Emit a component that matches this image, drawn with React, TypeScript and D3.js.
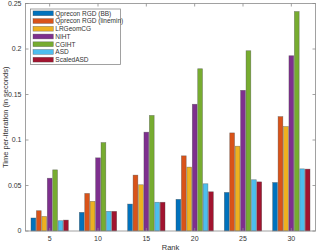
import { useEffect, useRef } from "react";
import * as d3 from "d3";

const ranks = ["5", "10", "15", "20", "25", "30"];
const seriesNames = [
  "Qprecon RGD (BB)",
  "Qprecon RGD (linemin)",
  "LRGeomCG",
  "NIHT",
  "CGIHT",
  "ASD",
  "ScaledASD",
];
const colors = ["#0072BD", "#D95319", "#EDB120", "#7E2F8E", "#77AC30", "#4DBEEE", "#A2142F"];

const qpreconBB = [0.0143, 0.0205, 0.0296, 0.0348, 0.0424, 0.0533];
const qpreconLinemin = [0.0223, 0.0413, 0.0614, 0.0826, 0.1078, 0.1257];
const lrgeomcg = [0.016, 0.0326, 0.0508, 0.0702, 0.0932, 0.1148];
const niht = [0.058, 0.0804, 0.1086, 0.1393, 0.1546, 0.1926];
const cgiht = [0.0672, 0.0972, 0.127, 0.1783, 0.1981, 0.2412];
const asd = [0.0113, 0.0216, 0.0316, 0.0519, 0.0563, 0.0683];
const scaledAsd = [0.012, 0.0216, 0.0316, 0.0431, 0.054, 0.068];

const series = [qpreconBB, qpreconLinemin, lrgeomcg, niht, cgiht, asd, scaledAsd];
const yTicks = [0, 0.05, 0.1, 0.15, 0.2, 0.25];

export default function App() {
  const svgRef = useRef<SVGSVGElement>(null);

  useEffect(() => {
    if (!svgRef.current) return;
    const svg = d3.select(svgRef.current);
    svg.selectAll("*").remove();

    const left = 25.5;
    const right = 315.5;
    const top = 3.5;
    const bottom = 231;
    const font = "'Liberation Sans', Arial, sans-serif";
    const axisColor = "#8a8a8a";
    const textColor = "#333";

    const x = d3
      .scaleBand()
      .domain(ranks)
      .range([left, right])
      .paddingInner(0.2)
      .paddingOuter(0.1);

    const xInner = d3
      .scaleBand<number>()
      .domain(d3.range(series.length))
      .range([0, x.bandwidth()])
      .padding(0.12);

    const y = d3.scaleLinear().domain([0, 0.25]).range([bottom, top]);

    // Bars
    series.forEach((vals, si) => {
      svg
        .append("g")
        .selectAll("rect")
        .data(vals)
        .join("rect")
        .attr("x", (_, i) => x(ranks[i])! + xInner(si)!)
        .attr("y", (d) => y(d))
        .attr("width", xInner.bandwidth())
        .attr("height", (d) => bottom - y(d))
        .attr("fill", colors[si])
        .attr("stroke", "#444")
        .attr("stroke-opacity", 0.55)
        .attr("stroke-width", 0.6);
    });

    // Frame
    svg
      .append("rect")
      .attr("x", left)
      .attr("y", top)
      .attr("width", right - left)
      .attr("height", bottom - top)
      .attr("fill", "none")
      .attr("stroke", axisColor)
      .attr("stroke-width", 0.8);

    // Ticks (inward, on all sides)
    const tk = 3;
    ranks.forEach((r) => {
      const cx = x(r)! + x.bandwidth() / 2;
      svg.append("line").attr("x1", cx).attr("x2", cx).attr("y1", bottom).attr("y2", bottom - tk)
        .attr("stroke", axisColor).attr("stroke-width", 0.8);
      svg.append("line").attr("x1", cx).attr("x2", cx).attr("y1", top).attr("y2", top + tk)
        .attr("stroke", axisColor).attr("stroke-width", 0.8);
      svg.append("text").attr("x", cx).attr("y", 240.5).attr("text-anchor", "middle")
        .style("font-family", font).style("font-size", "7px").style("fill", textColor).text(r);
    });
    yTicks.forEach((t) => {
      const cy = y(t);
      svg.append("line").attr("x1", left).attr("x2", left + tk).attr("y1", cy).attr("y2", cy)
        .attr("stroke", axisColor).attr("stroke-width", 0.8);
      svg.append("line").attr("x1", right).attr("x2", right - tk).attr("y1", cy).attr("y2", cy)
        .attr("stroke", axisColor).attr("stroke-width", 0.8);
      svg.append("text").attr("x", 21.5).attr("y", cy + 2.4).attr("text-anchor", "end")
        .style("font-family", font).style("font-size", "7px").style("fill", textColor)
        .text(d3.format("~g")(t));
    });

    // Axis labels
    svg.append("text").attr("x", (left + right) / 2).attr("y", 249.5).attr("text-anchor", "middle")
      .style("font-family", font).style("font-size", "7.5px").style("fill", textColor).text("Rank");
    svg.append("text").attr("transform", `translate(7.5,${(top + bottom) / 2}) rotate(-90)`)
      .attr("text-anchor", "middle")
      .style("font-family", font).style("font-size", "7.5px").style("fill", textColor)
      .text("Time per-iteration (in seconds)");

    // Legend
    const lg = svg.append("g");
    lg.append("rect").attr("x", 30.5).attr("y", 9).attr("width", 90).attr("height", 55.5)
      .attr("fill", "white").attr("stroke", axisColor).attr("stroke-width", 0.8);
    seriesNames.forEach((name, i) => {
      const cy = 13.3 + i * 7.73;
      lg.append("rect").attr("x", 33).attr("y", cy - 2.4).attr("width", 20.3).attr("height", 4.8)
        .attr("fill", colors[i]).attr("stroke", "#444").attr("stroke-opacity", 0.55).attr("stroke-width", 0.6);
      lg.append("text").attr("x", 55.3).attr("y", cy + 2.3)
        .style("font-family", font).style("font-size", "6.5px").style("fill", textColor).text(name);
    });
  }, []);

  return (
    <svg
      ref={svgRef}
      width={316}
      height={251}
      style={{ position: "absolute", left: 0, top: 0, background: "white" }}
    />
  );
}
